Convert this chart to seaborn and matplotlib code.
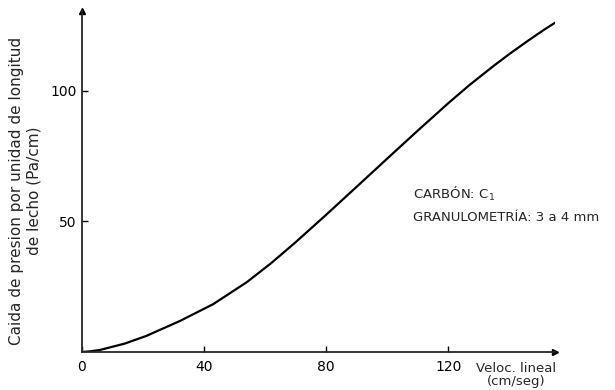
import numpy as np
import pandas as pd
import matplotlib
matplotlib.use("Agg")
import matplotlib.pyplot as plt
import seaborn as sns

# points
veloc = [0, 3, 6, 14, 21, 32, 43, 54, 62, 70, 80, 91, 100, 110, 120, 127, 135, 140, 146, 151, 155]
caida = [0, 0.3, 0.8, 3.2, 6.1, 11.8, 18.3, 26.7, 34.0, 42.0, 52.5, 64.3, 74.0, 84.7, 95.2, 102.2, 109.6, 114.0, 119.0, 123.0, 126.0]

x_ticks = [0, 40, 80, 120]
y_ticks = [50, 100]

df = pd.DataFrame({"veloc": veloc, "caida": caida})

sns.set_style("ticks")
plt.rcParams["font.family"] = ["DejaVu Sans"]

fig = plt.figure(figsize=(6.15, 3.9), dpi=100)
ax = fig.add_axes([0.133, 0.0974, 0.77, 0.875])

sns.lineplot(data=df, x="veloc", y="caida", ax=ax, color="black", linewidth=1.6)

ax.set_xlim(0, 155)
ax.set_ylim(0, 130.5)
sns.despine(ax=ax)
ax.spines["left"].set_linewidth(1.3)
ax.spines["bottom"].set_linewidth(1.3)

ax.set_xticks(x_ticks)
ax.set_yticks(y_ticks)
ax.tick_params(direction="in", length=4, width=1, labelsize=10, colors="black")
ax.tick_params(axis="x", pad=6)

ax.set_xlabel("")
ax.set_ylabel("Caida de presion por unidad de longitud\nde lecho (Pa/cm)", fontsize=11)
ax.yaxis.set_label_coords(-0.085, 0.472)

# arrow heads at the ends of the axes
ax.plot(1, 0, ">k", markersize=5, transform=ax.get_yaxis_transform(), clip_on=False)
ax.plot(0, 1, "^k", markersize=5, transform=ax.get_xaxis_transform(), clip_on=False)

ax.text(129, -4, "Veloc. lineal\n(cm/seg)", fontsize=9.5, ha="left", va="top",
        linespacing=0.95, multialignment="center")

ax.text(108.5, 60.3, "CARBÓN: C$_1$", fontsize=9.5, ha="left", va="center")
ax.text(108.5, 51.5, "GRANULOMETRÍA: 3 a 4 mm", fontsize=9.5, ha="left", va="center")

fig.savefig("out.png", dpi=100)
